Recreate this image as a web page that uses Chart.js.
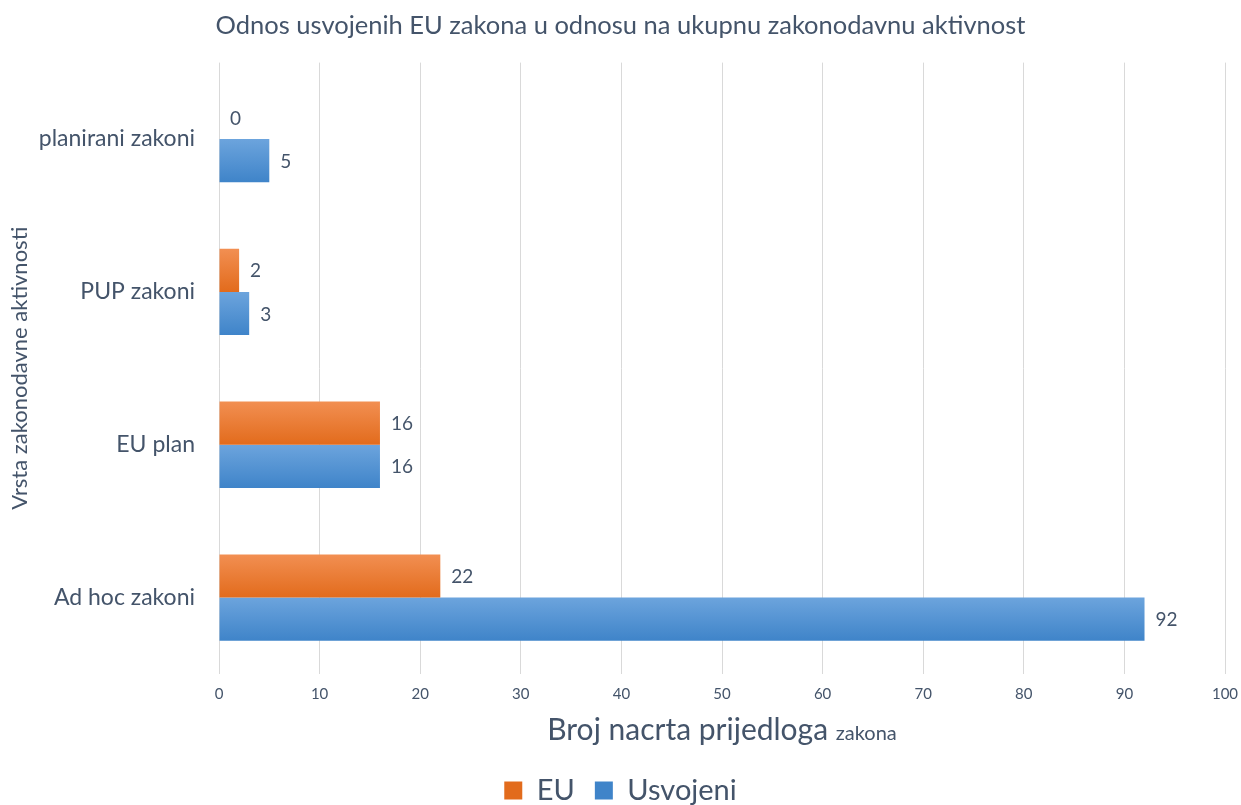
<!DOCTYPE html>
<html>
<head>
<meta charset="utf-8">
<script src="https://cdn.jsdelivr.net/npm/chart.js@4/dist/chart.umd.min.js"></script>
<style>
  html, body { margin: 0; padding: 0; background: #fff; }
  #wrap { width: 1241px; height: 805px; position: relative; }
</style>
</head>
<body>
<div id="wrap"><canvas id="chart"></canvas></div>
<script>
const categories = ['planirani zakoni', 'PUP zakoni', 'EU plan', 'Ad hoc zakoni'];
const euValues = [0, 2, 16, 22];
const usvojeniValues = [5, 3, 16, 92];
const xTicks = [0, 10, 20, 30, 40, 50, 60, 70, 80, 90, 100];

const FONT = 'Lato, "Open Sans", sans-serif';
const TEXT = '#44546a';
const CAT_PCT = 0.565;

// vertical gradient per bar, computed from the category scale
const barGradient = (top, bottom) => ctx => {
    const chart = ctx.chart;
    const y = chart.scales.y;
    if (!chart.chartArea || !y || ctx.dataIndex === undefined) return bottom;
    const center = y.getPixelForValue(ctx.dataIndex);
    const band = (y.bottom - y.top) / categories.length;
    const th = band * CAT_PCT / 2;
    const y0 = center - th + ctx.datasetIndex * th;
    const g = chart.ctx.createLinearGradient(0, y0, 0, y0 + th);
    g.addColorStop(0, top);
    g.addColorStop(1, bottom);
    return g;
};

const valueLabels = {
    id: 'valueLabels',
    afterDatasetsDraw(chart) {
        const c = chart.ctx;
        c.save();
        c.font = `19px ${FONT}`;
        c.fillStyle = TEXT;
        c.textBaseline = 'middle';
        c.textAlign = 'left';
        chart.data.datasets.forEach((ds, i) => {
            chart.getDatasetMeta(i).data.forEach((el, j) => {
                c.fillText(String(ds.data[j]), el.x + 11, el.y + 1);
            });
        });
        c.restore();
    }
};

// x-axis title with a smaller last word
const xTitle = {
    id: 'xTitle',
    afterDraw(chart) {
        const c = chart.ctx;
        const a = chart.chartArea;
        const big = 'Broj nacrta prijedloga ';
        const small = 'zakona';
        c.save();
        c.fillStyle = TEXT;
        c.textBaseline = 'alphabetic';
        c.font = `30px ${FONT}`;
        const w1 = c.measureText(big).width;
        c.font = `20px ${FONT}`;
        const w2 = c.measureText(small).width;
        const x0 = (a.left + a.right) / 2 - (w1 + w2) / 2;
        const base = 740;
        c.font = `30px ${FONT}`;
        c.fillText(big, x0, base);
        c.font = `20px ${FONT}`;
        c.fillText(small, x0 + w1, base);
        c.restore();
    }
};

new Chart(document.getElementById('chart'), {
    type: 'bar',
    data: {
        labels: categories,
        datasets: [
            { label: 'EU', data: euValues, backgroundColor: barGradient('#f28f52', '#e26b1c'),
              categoryPercentage: CAT_PCT, barPercentage: 1 },
            { label: 'Usvojeni', data: usvojeniValues, backgroundColor: barGradient('#6ca4dd', '#3f84c9'),
              categoryPercentage: CAT_PCT, barPercentage: 1 }
        ]
    },
    options: {
        indexAxis: 'y',
        responsive: true, maintainAspectRatio: false, animation: false,
        layout: { padding: { left: 0, right: 0, top: 0, bottom: -10 } },
        plugins: {
            title: { display: true, text: 'Odnos usvojenih EU zakona u odnosu na ukupnu zakonodavnu aktivnost',
                     color: TEXT, font: { family: FONT, size: 25.5, weight: 'normal' }, padding: { top: 10, bottom: 22 } },
            legend: { position: 'bottom',
                      labels: { color: TEXT, font: { family: FONT, size: 29 }, boxWidth: 18, boxHeight: 18, padding: 20 } },
            tooltip: { enabled: false }
        },
        scales: {
            x: {
                min: 0, max: 100,
                afterBuildTicks: s => { s.ticks = xTicks.map(v => ({ value: v })); },
                afterFit: s => { s.height = 82; s.paddingRight = 16; s.paddingLeft = 0; },
                grid: { color: '#d9d9d9', drawTicks: false },
                border: { display: false },
                ticks: { color: TEXT, font: { family: FONT, size: 15 }, padding: 11 }
            },
            y: {
                afterFit: s => { s.width = 219; },
                grid: { display: false },
                border: { display: false },
                ticks: { color: TEXT, font: { family: FONT, size: 23 }, padding: 16 },
                title: { display: true, text: 'Vrsta zakonodavne aktivnosti', color: TEXT,
                         font: { family: FONT, size: 22 }, padding: { top: 7, bottom: 0 } }
            }
        }
    },
    plugins: [valueLabels, xTitle]
});
</script>
</body>
</html>
